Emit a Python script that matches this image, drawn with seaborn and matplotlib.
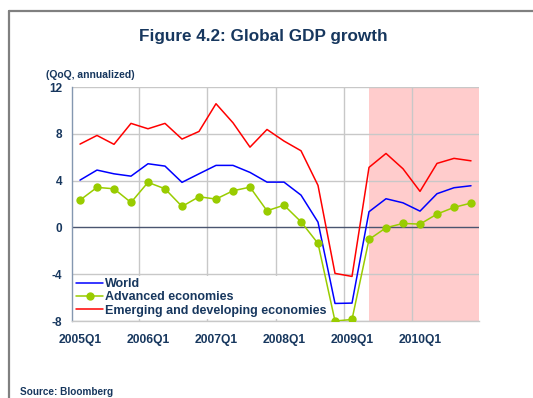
import matplotlib
matplotlib.use("Agg")
import matplotlib.pyplot as plt
from matplotlib.lines import Line2D
import seaborn as sns
import pandas as pd
import numpy as np

quarters = [f"{y}Q{q}" for y in range(2005, 2011) for q in range(1, 5)]
world = [4.04, 4.9, 4.58, 4.38, 5.44, 5.24, 3.85, 4.58, 5.3, 5.3, 4.7, 3.87,
         3.87, 2.76, 0.45, -6.5, -6.47, 1.34, 2.45, 2.1, 1.39, 2.88, 3.39, 3.56]
advanced = [2.33, 3.42, 3.3, 2.13, 3.85, 3.3, 1.79, 2.62, 2.42, 3.13, 3.44, 1.42,
            1.9, 0.48, -1.37, -8.0, -7.87, -1.03, -0.03, 0.34, 0.28, 1.14, 1.71, 2.08]
emerging = [7.12, 7.86, 7.1, 8.89, 8.43, 8.89, 7.55, 8.2, 10.57, 8.94, 6.86, 8.37,
            7.38, 6.55, 3.59, -3.93, -4.19, 5.13, 6.32, 5.01, 3.08, 5.47, 5.9, 5.69]
series_names = ["World", "Advanced economies", "Emerging and developing economies"]
yticks = [-8, -4, 0, 4, 8, 12]
xtick_labels = ["2005Q1", "2006Q1", "2007Q1", "2008Q1", "2009Q1", "2010Q1"]
shade_start = "2009Q2"

idx = np.arange(len(quarters))
df = pd.DataFrame({"idx": idx, "World": world, "Advanced economies": advanced,
                   "Emerging and developing economies": emerging})

sns.set_style("white")
plt.rcParams["font.family"] = ["Liberation Sans", "DejaVu Sans"]
navy = "#17375E"

fig = plt.figure(figsize=(5.33, 3.98), dpi=100)
ax = fig.add_axes([72/533, 1-321/398, (479-72)/533, (321-87)/398])

# shaded forecast region
s = quarters.index(shade_start)
ax.axvspan(s, len(quarters) - 0.5 + 0.15, color="#FFCCCC", lw=0, zorder=0)

# grid
for y in yticks:
    if y != 0:
        ax.axhline(y, color="#C8C8C8", lw=1.0, zorder=1)
for b in np.arange(3.5, len(quarters), 4):
    ax.axvline(b, color="#C8C8C8", lw=1.0, zorder=1)
ax.axhline(0, color="#4A5570", lw=1.0, zorder=2)

sns.lineplot(data=df, x="idx", y="World", ax=ax, color="#0000FF", lw=1.1,
             label=series_names[0], zorder=3)
sns.lineplot(data=df, x="idx", y="Advanced economies", ax=ax, color="#99CC00", lw=1.1,
             marker="o", markersize=6, markeredgewidth=0, label=series_names[1], zorder=3)
sns.lineplot(data=df, x="idx", y="Emerging and developing economies", ax=ax, color="#FF0000",
             lw=1.1, label=series_names[2], zorder=3)

ax.set_xlim(-0.47, len(quarters) - 0.53)
ax.set_ylim(-8, 12)
ax.set_yticks(yticks)
ax.set_yticklabels([str(v) for v in yticks], fontsize=8.5, fontweight="bold", color=navy)
ax.set_xticks([quarters.index(q) for q in xtick_labels])
ax.set_xticklabels(xtick_labels, fontsize=8.7, fontweight="bold", color=navy)
ax.tick_params(axis="both", length=0, pad=7)
ax.tick_params(axis="x", pad=9)
ax.set_xlabel("")
ax.set_ylabel("")
for sp in ["top", "right"]:
    ax.spines[sp].set_visible(False)
ax.spines["left"].set_color("#8497B0")
ax.spines["left"].set_linewidth(1.0)
ax.spines["bottom"].set_color("#C8C8C8")
ax.spines["bottom"].set_linewidth(1.0)

leg = ax.legend(loc="lower left", bbox_to_anchor=(0.0, 0.0), frameon=True, fancybox=False,
                framealpha=1, facecolor="white", edgecolor="none", fontsize=9.0,
                handlelength=2.1, handletextpad=0.2, labelspacing=0.1,
                borderpad=0.15, borderaxespad=0.2)
for t in leg.get_texts():
    t.set_color(navy)
    t.set_fontweight("bold")
leg.set_zorder(2.5)

fig.text(263/533, 1-37/398, "Figure 4.2: Global GDP growth", ha="center", va="center",
         fontsize=12.3, fontweight="bold", color=navy)
fig.text(46/533, 1-75/398, "(QoQ, annualized)", ha="left", va="center",
         fontsize=7.5, fontweight="bold", color=navy)
fig.text(20/533, 1-392/398, "Source: Bloomberg", ha="left", va="center",
         fontsize=7.2, fontweight="bold", color=navy)

# outer border lines (top and left)
fig.add_artist(Line2D([9/533, 1.0], [1-11/398, 1-11/398], transform=fig.transFigure,
                      color="#808080", lw=1.6))
fig.add_artist(Line2D([9/533, 9/533], [1-11/398, 0.0], transform=fig.transFigure,
                      color="#808080", lw=1.6))

fig.savefig("out.png", dpi=100)
